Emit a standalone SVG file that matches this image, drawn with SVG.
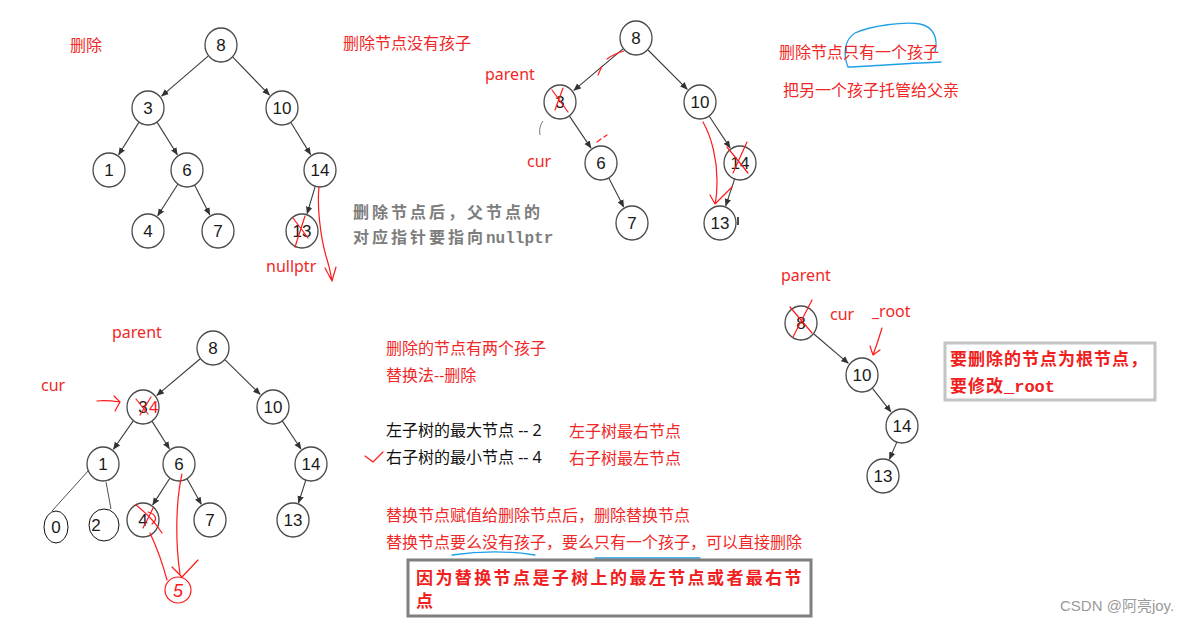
<svg xmlns="http://www.w3.org/2000/svg" width="1191" height="623" viewBox="0 0 1191 623">
<defs>
<marker id="arr" markerWidth="8" markerHeight="8" refX="7" refY="4" orient="auto" markerUnits="userSpaceOnUse"><path d="M0,0.8 L7.5,4 L0,7.2 z" fill="#333"/></marker>
<style>
.n ellipse{fill:#fff;stroke:#4a4a4a;stroke-width:1.3}
.n text{font-family:"Liberation Sans",Arial,sans-serif;font-size:17px;fill:#1a1a1a;text-anchor:middle}
.e line{stroke:#3a3a3a;stroke-width:1.1;marker-end:url(#arr)}
.thin{stroke:#222;stroke-width:0.8;fill:none}
.r{font-family:"Noto Sans","Noto Sans CJK SC",sans-serif;font-size:16px;fill:#f02828}
.k{font-family:"Noto Sans","Noto Sans CJK SC",sans-serif;font-size:16px;fill:#111}
.g{font-family:"Noto Sans CJK SC",sans-serif;font-size:16px;font-weight:bold;fill:#7d7d7d;letter-spacing:3px}
.b{font-family:"Noto Sans CJK SC",sans-serif;font-size:17px;font-weight:bold;fill:#f02020}
.mono{font-family:"Liberation Mono","Noto Sans CJK SC",monospace;letter-spacing:0}
.h{stroke:#ff1a1a;stroke-width:1.2;fill:none;stroke-linecap:round;stroke-linejoin:round}
.bl{stroke:#1e9fe6;stroke-width:1.3;fill:none;stroke-linecap:round}
.gm{stroke:#777;stroke-width:1;fill:none}
</style>
</defs>

<!-- connectors -->
<g id="connectors" class="e">
<!-- tree 1 -->
<line x1="208.1" y1="56.1" x2="161.6" y2="96.2"/>
<line x1="232.8" y1="57.2" x2="269.5" y2="95.1"/>
<line x1="138.9" y1="122.4" x2="118.6" y2="154.8"/>
<line x1="157.1" y1="122.4" x2="177.4" y2="154.8"/>
<line x1="290.9" y1="122.5" x2="310.6" y2="154.6"/>
<line x1="177.8" y1="184.3" x2="157.7" y2="215.8"/>
<line x1="194.7" y1="185.2" x2="209.8" y2="214.9"/>
<line x1="315.2" y1="186.3" x2="307.1" y2="213.7"/>
<!-- tree 2 -->
<line x1="623" y1="48.9" x2="573.8" y2="90.4"/>
<line x1="648" y1="50" x2="687.3" y2="89.3"/>
<line x1="569.5" y1="116.1" x2="591" y2="148.1"/>
<line x1="709.3" y1="116.2" x2="730.1" y2="147.9"/>
<line x1="608.8" y1="178.1" x2="623.7" y2="207"/>
<line x1="734.6" y1="179.1" x2="725.7" y2="205.9"/>
<!-- tree 3 -->
<line x1="200" y1="359" x2="156.8" y2="395.4"/>
<line x1="225.1" y1="359.9" x2="260.2" y2="394.4"/>
<line x1="133.2" y1="420.9" x2="113.4" y2="449.3"/>
<line x1="152.1" y1="421.4" x2="169.4" y2="448.8"/>
<line x1="282.4" y1="421.1" x2="301" y2="449"/>
<line x1="169.8" y1="478.3" x2="152.7" y2="504.9"/>
<line x1="187.2" y1="478.9" x2="201.3" y2="504.3"/>
<line x1="305.8" y1="480.2" x2="298.5" y2="502.9"/>
<!-- tree 4 -->
<line x1="813.9" y1="334" x2="848.3" y2="363.3"/>
<line x1="872.5" y1="388.4" x2="890.9" y2="411.8"/>
<line x1="897" y1="441.9" x2="889.4" y2="459.2"/>
</g>
<g id="hand-connectors">
<path class="thin" d="M88,471 L52,511"/>
<path class="thin" d="M106,482 L111,509"/>
</g>

<!-- tree 1 nodes -->
<g id="t1-8" class="n"><ellipse cx="221" cy="45" rx="16" ry="17"/><text x="221" y="51">8</text></g>
<g id="t1-3" class="n"><ellipse cx="148" cy="108" rx="16" ry="17"/><text x="148" y="114">3</text></g>
<g id="t1-10" class="n"><ellipse cx="282" cy="108" rx="16" ry="17"/><text x="282" y="114">10</text></g>
<g id="t1-1" class="n"><ellipse cx="109" cy="170" rx="16" ry="17"/><text x="109" y="176">1</text></g>
<g id="t1-6" class="n"><ellipse cx="187" cy="170" rx="16" ry="17"/><text x="187" y="176">6</text></g>
<g id="t1-14" class="n"><ellipse cx="320" cy="170" rx="16" ry="17"/><text x="320" y="176">14</text></g>
<g id="t1-4" class="n"><ellipse cx="148" cy="231" rx="16" ry="17"/><text x="148" y="237">4</text></g>
<g id="t1-7" class="n"><ellipse cx="218" cy="231" rx="16" ry="17"/><text x="218" y="237">7</text></g>
<g id="t1-13" class="n"><ellipse cx="302" cy="231" rx="16" ry="17"/><text x="302" y="237">13</text></g>

<!-- tree 2 nodes -->
<g id="t2-8" class="n"><ellipse cx="636" cy="38" rx="16" ry="17"/><text x="636" y="44">8</text></g>
<g id="t2-3" class="n"><ellipse cx="560" cy="102" rx="16" ry="17"/><text x="560" y="108">3</text></g>
<g id="t2-10" class="n"><ellipse cx="700" cy="102" rx="16" ry="17"/><text x="700" y="108">10</text></g>
<g id="t2-6" class="n"><ellipse cx="601" cy="163" rx="16" ry="17"/><text x="601" y="169">6</text></g>
<g id="t2-14" class="n"><ellipse cx="740" cy="163" rx="16" ry="17"/><text x="740" y="169">14</text></g>
<g id="t2-7" class="n"><ellipse cx="632" cy="223" rx="16" ry="17"/><text x="632" y="229">7</text></g>
<g id="t2-13" class="n"><ellipse cx="720" cy="223" rx="16" ry="17"/><text x="720" y="229">13</text></g>

<!-- tree 3 nodes -->
<g id="t3-8" class="n"><ellipse cx="213" cy="348" rx="16" ry="17"/><text x="213" y="354">8</text></g>
<g id="t3-3" class="n"><ellipse cx="143" cy="407" rx="16" ry="17"/><text x="143" y="413">3</text></g>
<g id="t3-10" class="n"><ellipse cx="273" cy="407" rx="16" ry="17"/><text x="273" y="413">10</text></g>
<g id="t3-1" class="n"><ellipse cx="103" cy="464" rx="16" ry="17"/><text x="103" y="470">1</text></g>
<g id="t3-6" class="n"><ellipse cx="179" cy="464" rx="16" ry="17"/><text x="179" y="470">6</text></g>
<g id="t3-14" class="n"><ellipse cx="311" cy="464" rx="16" ry="17"/><text x="311" y="470">14</text></g>
<g id="t3-4" class="n"><ellipse cx="143" cy="520" rx="16" ry="17"/><text x="143" y="526">4</text></g>
<g id="t3-7" class="n"><ellipse cx="210" cy="520" rx="16" ry="17"/><text x="210" y="526">7</text></g>
<g id="t3-13" class="n"><ellipse cx="293" cy="520" rx="16" ry="17"/><text x="293" y="526">13</text></g>
<g id="t3-0" class="n"><ellipse cx="56" cy="527" rx="12" ry="16" style="stroke:#111;stroke-width:1"/><text x="56" y="533">0</text></g>
<g id="t3-2" class="n"><ellipse cx="104" cy="525" rx="15" ry="16" style="stroke:#111;stroke-width:1;fill:none"/><text x="96" y="531">2</text></g>
<g id="t3-5"><ellipse cx="178" cy="590" rx="13" ry="13" class="h"/><text x="178" y="597" text-anchor="middle" style="font-family:'Liberation Sans',sans-serif;font-size:18px;fill:#ff1a1a;font-style:italic">5</text></g>

<!-- tree 4 nodes -->
<g id="t4-8" class="n"><ellipse cx="801" cy="323" rx="16" ry="17"/><text x="801" y="329">8</text></g>
<g id="t4-10" class="n"><ellipse cx="862" cy="375" rx="16" ry="17"/><text x="862" y="381">10</text></g>
<g id="t4-14" class="n"><ellipse cx="902" cy="426" rx="16" ry="17"/><text x="902" y="432">14</text></g>
<g id="t4-13" class="n"><ellipse cx="883" cy="476" rx="16" ry="17"/><text x="883" y="482">13</text></g>

<!-- handwriting marks -->
<g id="marks">
<!-- tree1 -->
<path class="h" d="M293,218 L308,238 M305,216 L295,247"/>
<path class="h" d="M319,187 C317,205 320,235 326,256 C330,268 331,275 332,281 M325,268 L332,281 L336,267"/>
<!-- tree2 -->
<path class="h" d="M624,51 C617,53 611,56 607,59 M602,66 L598,75"/>
<path class="h" d="M552,90 L568,112 M563,88 L555,110"/>
<path class="h" d="M597,142 L601,139 M604,137 L607,135"/>
<path class="h" d="M703,122 C712,138 717,160 717,180 C717,195 716,200 715,204 M710,195 L715,204 L732,187"/>
<path class="h" d="M727,147 L748,173 M747,142 L733,173"/>
<path class="gm" d="M543,121 C540,125 539,130 540,135"/>
<path class="gm" d="M738,217 L738,225" style="stroke:#111;stroke-width:1.5"/>
<!-- tree3 -->
<path class="h" d="M97,401 C105,400 113,401 120,402 M114,396 L120,402 L115,411"/>
<path class="h" d="M136,399 L148,414 M151,397 L140,415"/>
<text x="149" y="413" style="font-family:'Liberation Sans',sans-serif;font-size:17px;fill:#ff1a1a">4</text>
<path class="h" d="M136,505 C145,512 155,522 162,533 M153,508 C150,515 146,522 143,528 M148,512 C156,514 158,520 152,524"/>
<path class="h" d="M150,533 C158,550 163,565 167,580"/>
<path class="h" d="M182,474 C176,500 175,540 180,574"/>
<path class="h" d="M172,567 L182,577 L198,560"/>
<!-- tree4 -->
<path class="h" d="M790,307 L812,333 M812,300 L793,337"/>
<path class="h" d="M882,328 C879,338 876,347 873,355 M870,346 L873,355 L880,350"/>
<!-- check -->
<path class="h" d="M365,456 L373,462 L383,452"/>
<!-- blue -->
<path class="bl" d="M941,62 C910,63 875,66 848,67 C843,55 844,40 855,33 C870,26 905,21 920,24 C935,27 938,40 935,52"/>
<path class="bl" d="M452,555 C480,551 510,551 535,555"/>
<path class="bl" d="M595,558 L700,558"/>
</g>

<!-- labels -->
<g id="labels">
<text class="r" x="70" y="51">删除</text>
<text class="r" x="343" y="49">删除节点没有孩子</text>
<text class="g" x="353" y="218">删除节点后，父节点的</text>
<text class="g" x="353" y="243">对应指针要指向<tspan class="mono">nullptr</tspan></text>
<text class="r" x="266" y="272">nullptr</text>
<text class="r" x="485" y="80">parent</text>
<text class="r" x="527" y="167">cur</text>
<text class="r" x="779" y="58">删除节点只有一个孩子</text>
<text class="r" x="783" y="96">把另一个孩子托管给父亲</text>
<text class="r" x="112" y="338">parent</text>
<text class="r" x="41" y="391">cur</text>
<text class="r" x="386" y="354">删除的节点有两个孩子</text>
<text class="r" x="386" y="381">替换法--删除</text>
<text class="k" x="386" y="436">左子树的最大节点 -- 2</text>
<text class="k" x="386" y="463">右子树的最小节点 -- 4</text>
<text class="r" x="569" y="437">左子树最右节点</text>
<text class="r" x="569" y="464">右子树最左节点</text>
<text class="r" x="386" y="521">替换节点赋值给删除节点后，删除替换节点</text>
<text class="r" x="386" y="548">替换节点要么没有孩子，要么只有一个孩子，可以直接删除</text>
<text class="r" x="781" y="281">parent</text>
<text class="r" x="830" y="320">cur</text>
<text class="r" x="872" y="317">_root</text>
</g>

<g id="box-root">
<rect x="945" y="343" width="210" height="57" fill="#fff" stroke="#c4c4c4" stroke-width="3"/>
<text class="b" x="950" y="365" style="letter-spacing:1px">要删除的节点为根节点，</text>
<text class="b" x="950" y="392" style="letter-spacing:1px">要修改<tspan class="mono">_root</tspan></text>
</g>

<g id="box-note">
<rect x="408" y="560" width="403" height="56" fill="#fff" stroke="#7f7f7f" stroke-width="3"/>
<text class="b" x="416" y="584" style="letter-spacing:2.4px">因为替换节点是子树上的最左节点或者最右节</text>
<text class="b" x="416" y="607" style="letter-spacing:2.4px">点</text>
</g>

<text x="1060" y="611" style="font-family:'Liberation Sans','Noto Sans CJK SC',sans-serif;font-size:15px;fill:#9a9a9a">CSDN @阿亮joy.</text>
</svg>
